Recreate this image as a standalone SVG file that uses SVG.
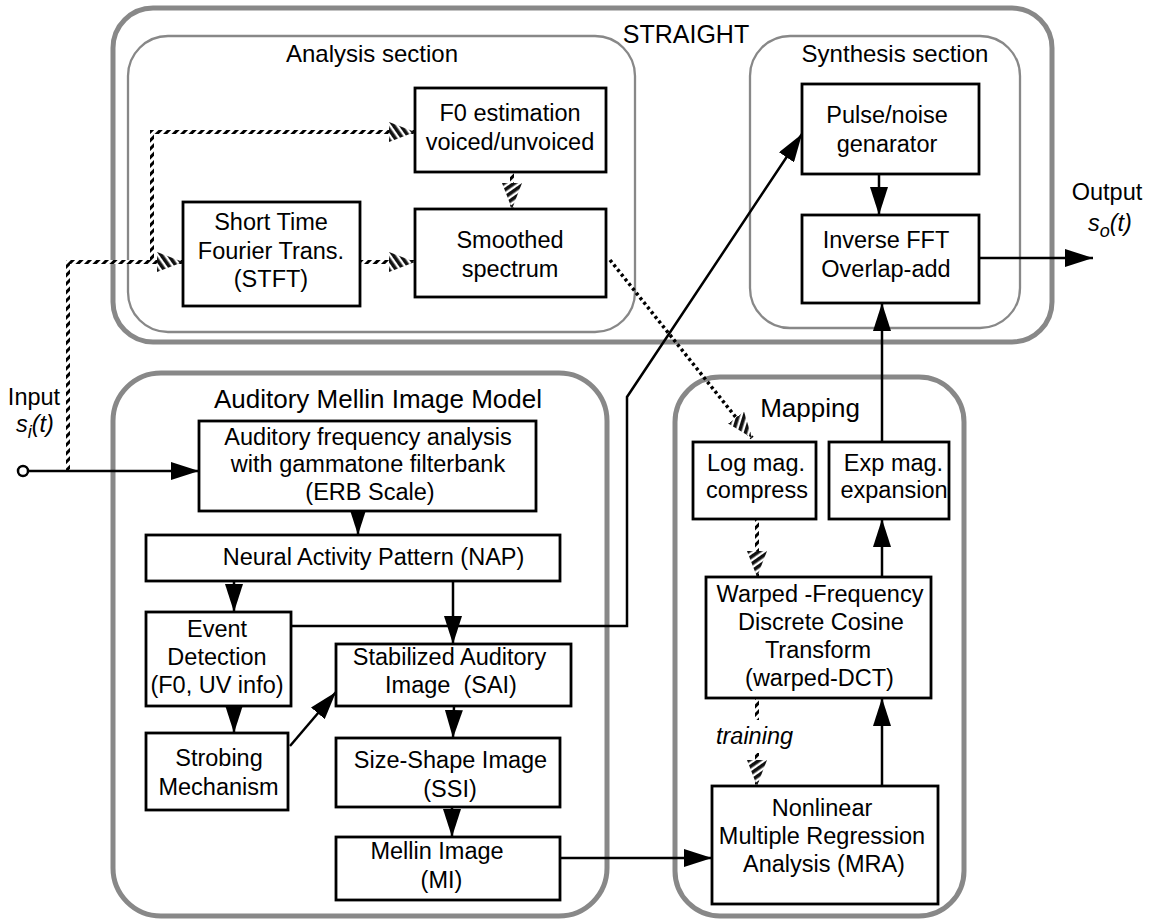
<svg xmlns="http://www.w3.org/2000/svg" width="1152" height="919" viewBox="0 0 1152 919">
<style>
text{font-family:"Liberation Sans",Arial,sans-serif;fill:#000;}
.bt{font-size:23.5px;text-anchor:middle;}
.hd{font-size:26px;text-anchor:middle;}
.sec{font-size:24px;text-anchor:middle;}
.box{fill:#fff;stroke:#000;stroke-width:2.8;}
.outer{fill:none;stroke:#888;stroke-width:5;}
.inner{fill:none;stroke:#888;stroke-width:2.3;}
.ln{fill:none;stroke:#000;stroke-width:2.5;}
.sl{fill:none;stroke:url(#diag);stroke-width:4;}
.dl{fill:none;stroke:#000;stroke-width:3.5;stroke-dasharray:3 3;}
.it{font-style:italic;}
</style>
<defs>
<pattern id="diag" width="6" height="6" patternUnits="userSpaceOnUse" patternTransform="rotate(45)">
<rect width="6" height="6" fill="#fff"/><rect width="3" height="6" fill="#000"/>
</pattern>
<pattern id="hatch" width="6" height="6" patternUnits="userSpaceOnUse" patternTransform="rotate(-35)">
<rect width="6" height="6" fill="#fff"/><rect width="3.6" height="6" fill="#111"/>
</pattern>
<marker id="ah" markerUnits="userSpaceOnUse" markerWidth="28" markerHeight="18" refX="28" refY="9" orient="auto" viewBox="0 0 28 18">
<path d="M0,0 L28,9 L0,18 z" fill="#000"/>
</marker>
<marker id="sh" markerUnits="userSpaceOnUse" markerWidth="26" markerHeight="20" refX="26" refY="10" orient="auto" viewBox="0 0 26 20">
<path d="M0,0 L26,10 L0,20 z" fill="url(#hatch)"/>
</marker>
</defs>
<rect width="1152" height="919" fill="#fff"/>

<g id="straight">
<rect class="outer" x="113" y="8" width="939" height="334" rx="40"/>
<text class="hd" x="686" y="43" style="font-size:25px">STRAIGHT</text>
</g>
<g id="analysis">
<rect class="inner" x="128" y="36" width="507" height="296" rx="40"/>
<text class="sec" x="372" y="62">Analysis section</text>
</g>
<g id="synthesis">
<rect class="inner" x="750" y="36" width="270" height="292" rx="40"/>
<text class="sec" x="895" y="62">Synthesis section</text>
</g>
<g id="amim">
<rect class="outer" x="113" y="373" width="494" height="543" rx="48"/>
<text class="hd" x="378" y="408">Auditory Mellin Image Model</text>
</g>
<g id="mapping">
<rect class="outer" x="675" y="377" width="289" height="539" rx="45"/>
<text class="hd" x="810" y="417">Mapping</text>
</g>

<g id="connectors">
<path class="sl" d="M68,471 V262 H183" marker-end="url(#sh)"/>
<path class="sl" d="M152,262 V132 H415" marker-end="url(#sh)"/>
<path class="sl" d="M360,262 H415" marker-end="url(#sh)"/>
<path class="sl" d="M512,172 V209" marker-end="url(#sh)"/>
<path class="dl" d="M610,260 L738,420"/>
<path class="sl" d="M738,420 L752,438" marker-end="url(#sh)"/>
<path class="sl" d="M757,519 V577" marker-end="url(#sh)"/>
<path class="sl" d="M757,698 V720"/>
<path class="sl" d="M757,753 V786" marker-end="url(#sh)"/>
<circle cx="23" cy="471" r="5" fill="#fff" stroke="#000" stroke-width="2.5"/>
<path class="ln" d="M28,471 H199" marker-end="url(#ah)"/>
<path class="ln" d="M358,511 V535" marker-end="url(#ah)"/>
<path class="ln" d="M234,581 V612" marker-end="url(#ah)"/>
<path class="ln" d="M453,581 V644" marker-end="url(#ah)"/>
<path class="ln" d="M234,706 V733" marker-end="url(#ah)"/>
<path class="ln" d="M290,746 L336,692" marker-end="url(#ah)"/>
<path class="ln" d="M454,706 L453,738" marker-end="url(#ah)"/>
<path class="ln" d="M452,807 V837" marker-end="url(#ah)"/>
<path class="ln" d="M560,858 H712" marker-end="url(#ah)"/>
<path class="ln" d="M291,626 H627 V397 L802,134" marker-end="url(#ah)"/>
<path class="ln" d="M879,174 V215" marker-end="url(#ah)"/>
<path class="ln" d="M882,442 V303" marker-end="url(#ah)"/>
<path class="ln" d="M882,577 V519" marker-end="url(#ah)"/>
<path class="ln" d="M882,786 V698" marker-end="url(#ah)"/>
<path class="ln" d="M979,258 H1093" marker-end="url(#ah)"/>
</g>

<g id="f0">
<rect class="box" x="415" y="88" width="191" height="84"/>
<text class="bt" x="510" y="121">F0 estimation</text>
<text class="bt" x="510" y="150">voiced/unvoiced</text>
</g>
<g id="smoothed">
<rect class="box" x="415" y="209" width="191" height="88"/>
<text class="bt" x="510" y="248">Smoothed</text>
<text class="bt" x="510" y="277">spectrum</text>
</g>
<g id="stft">
<rect class="box" x="183" y="202" width="177" height="104"/>
<text class="bt" x="271" y="230">Short Time</text>
<text class="bt" x="271" y="259">Fourier Trans.</text>
<text class="bt" x="271" y="287">(STFT)</text>
</g>
<g id="pulse">
<rect class="box" x="802" y="84" width="177" height="90"/>
<text class="bt" x="887" y="123">Pulse/noise</text>
<text class="bt" x="887" y="152">genarator</text>
</g>
<g id="ifft">
<rect class="box" x="802" y="215" width="177" height="88"/>
<text class="bt" x="886" y="248">Inverse FFT</text>
<text class="bt" x="886" y="277">Overlap-add</text>
</g>
<g id="output">
<text class="bt" x="1107" y="200">Output</text>
<text class="it" x="1088" y="231" style="font-size:23.5px">s<tspan dy="6" style="font-size:18px">o</tspan><tspan dy="-6">(t)</tspan></text>
</g>
<g id="input">
<text class="bt" x="34" y="405">Input</text>
<text class="it" x="16" y="432" style="font-size:23.5px">s<tspan dy="6" style="font-size:18px">i</tspan><tspan dy="-6">(t)</tspan></text>
</g>
<g id="freq">
<rect class="box" x="199" y="421" width="337" height="90"/>
<text class="bt" x="368" y="445">Auditory frequency analysis</text>
<text class="bt" x="368" y="472">with gammatone filterbank</text>
<text class="bt" x="370" y="500">(ERB Scale)</text>
</g>
<g id="nap">
<rect class="box" x="146" y="535" width="414" height="46"/>
<text class="bt" x="373.5" y="565">Neural Activity Pattern (NAP)</text>
</g>
<g id="event">
<rect class="box" x="146" y="612" width="145" height="94"/>
<text class="bt" x="217" y="637">Event</text>
<text class="bt" x="217" y="665">Detection</text>
<text class="bt" x="217" y="693">(F0, UV info)</text>
</g>
<g id="strobing">
<rect class="box" x="146" y="733" width="142" height="77"/>
<text class="bt" x="219" y="766">Strobing</text>
<text class="bt" x="218.5" y="795">Mechanism</text>
</g>
<g id="sai">
<rect class="box" x="336" y="644" width="235" height="62"/>
<text class="bt" x="449.5" y="665">Stabilized Auditory</text>
<text class="bt" x="451" y="693" xml:space="preserve">Image  (SAI)</text>
</g>
<g id="ssi">
<rect class="box" x="336" y="738" width="224" height="69"/>
<text class="bt" x="450.5" y="768">Size-Shape Image</text>
<text class="bt" x="450" y="797">(SSI)</text>
</g>
<g id="mi">
<rect class="box" x="336" y="837" width="224" height="63"/>
<text class="bt" x="437" y="859">Mellin Image</text>
<text class="bt" x="441.5" y="888">(MI)</text>
</g>
<g id="logmag">
<rect class="box" x="693" y="442" width="123" height="77"/>
<text class="bt" x="756" y="471">Log mag.</text>
<text class="bt" x="757" y="498">compress</text>
</g>
<g id="expmag">
<rect class="box" x="829" y="442" width="120" height="77"/>
<text class="bt" x="893.5" y="471">Exp mag.</text>
<text class="bt" x="894" y="498">expansion</text>
</g>
<g id="warped">
<rect class="box" x="706" y="577" width="225" height="121"/>
<text class="bt" x="820" y="602">Warped -Frequency</text>
<text class="bt" x="821" y="630">Discrete Cosine</text>
<text class="bt" x="818" y="658">Transform</text>
<text class="bt" x="819.5" y="686">(warped-DCT)</text>
</g>
<text class="bt it" x="754.5" y="744">training</text>
<g id="mra">
<rect class="box" x="712" y="786" width="226" height="118"/>
<text class="bt" x="822" y="816">Nonlinear</text>
<text class="bt" x="822" y="844">Multiple Regression</text>
<text class="bt" x="824" y="872">Analysis (MRA)</text>
</g>
</svg>
